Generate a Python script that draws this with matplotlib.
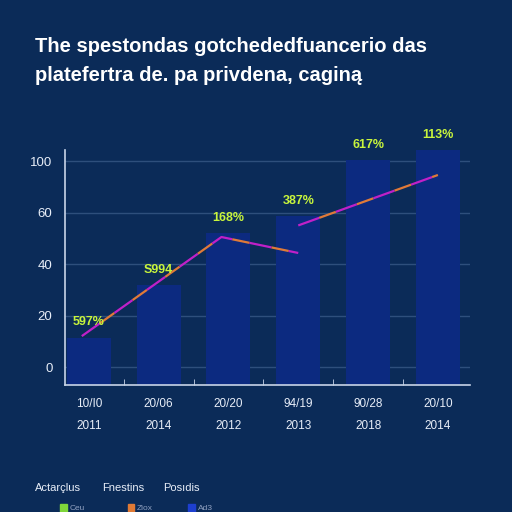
import numpy as np
import matplotlib
matplotlib.use("Agg")
from matplotlib import pyplot as plt

# data
dates = ["10/I0", "20/06", "20/20", "94/19", "90/28", "20/10"]
years = ["2011", "2014", "2012", "2013", "2018", "2014"]
bar_values = [11.3, 31.8, 52.0, 58.6, 80.4, 84.3]
pct_labels = ["597%", "S994", "168%", "387%", "617%", "113%"]
line_a_x = [-0.1, 1.9, 3.0]
line_a_y = [12.0, 50.5, 44.3]
line_b_x = [3.0, 5.0]
line_b_y = [55.0, 74.6]
ytick_vals = [0, 20, 40, 60, 80]
ytick_labels = ["0", "20", "40", "60", "100"]
legend_heads = ["Actarçlus", "Fnestins", "Posıdis"]
legend_items = ["Ceu", "Ziox", "Ad3"]
legend_colors = ["#7fd63a", "#e07a35", "#1d3fd0"]

bg = "#0b2b58"
bar_c = "#0c2a80"
txt = "#e8eef8"

plt.rcParams['font.family'] = ['Liberation Sans', 'DejaVu Sans']

fig = plt.figure(figsize=(5.12, 5.12), dpi=100, facecolor=bg)
ax = fig.add_axes([0.127, 0.248, 0.791, 0.459], facecolor=bg)

ymin, ymax = -7, 84.3
x = np.arange(len(bar_values))
ax.bar(x, np.array(bar_values) - ymin, bottom=ymin, width=0.63, color=bar_c, zorder=2)

for yv in ytick_vals:
    ax.axhline(yv, color="#2e4f7c", lw=1, zorder=1)

ax.plot(line_a_x, line_a_y, color="#c020c8", lw=1.6, ls=(0, (10, 8)), gapcolor="#e07a38", zorder=3)
ax.plot(line_b_x, line_b_y, color="#c020c8", lw=1.6, ls=(0, (10, 8)), gapcolor="#e07a38", zorder=3)

for i, v in enumerate(bar_values):
    ax.text(i, v + 6, pct_labels[i], ha="center", va="center", color="#c8f53c",
            fontsize=9, fontweight="bold", clip_on=False, zorder=4)

ax.set_xlim(-0.34, 5.46)
ax.set_ylim(ymin, ymax)
ax.set_yticks(ytick_vals)
ax.set_yticklabels(ytick_labels, color=txt, fontsize=9.5)
ax.set_xticks(x)
ax.set_xticklabels([d + "\n\n" + y for d, y in zip(dates, years)], color=txt,
                   fontsize=8.5, linespacing=0.92)
ax.set_xticks(x[:-1] + 0.5, minor=True)
ax.tick_params(axis="both", which="major", length=0, pad=9)
ax.tick_params(axis="x", which="minor", direction="in", length=4, color="#c8d4e8")
for s in ["top", "right"]:
    ax.spines[s].set_visible(False)
for s in ["left", "bottom"]:
    ax.spines[s].set_color("#c8d4e8")
    ax.spines[s].set_linewidth(1.2)

fig.text(0.068, 0.91, "The spestondas gotchededfuancerio das", color="white",
         fontsize=14.5, fontweight="bold", va="center")
fig.text(0.068, 0.852, "platefertra de. pa privdena, caginą", color="white",
         fontsize=14.5, fontweight="bold", va="center")

hx = [0.068, 0.2, 0.318]
for i in range(3):
    fig.text(hx[i], 0.047, legend_heads[i], color=txt, fontsize=8, va="center")
    fig.patches.append(plt.Rectangle((hx[i] + 0.05, 0.0), 0.012, 0.016,
                                     transform=fig.transFigure, color=legend_colors[i]))
    fig.text(hx[i] + 0.068, 0.007, legend_items[i], color="#8fa0c0", fontsize=6, va="center")

fig.savefig("out.png", dpi=100, facecolor=bg)
